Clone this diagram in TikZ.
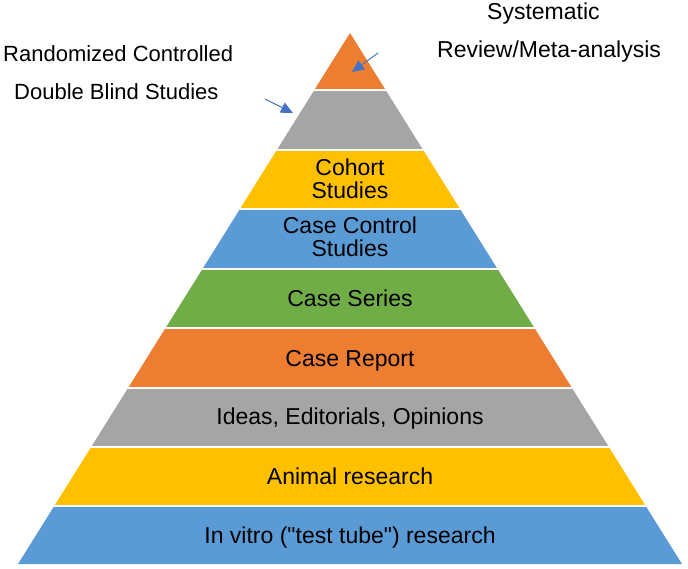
\documentclass[tikz,border=0pt]{standalone}
\usepackage{fontspec}
\setmainfont{Liberation Sans}
\newfontfamily\qfont{Liberation Sans}
\newcommand{\sq}{{\qfont\char34}}
\usetikzlibrary{arrows.meta}
\definecolor{porange}{HTML}{ED7D31}
\definecolor{pgray}{HTML}{A5A5A5}
\definecolor{pyellow}{HTML}{FFC000}
\definecolor{pblue}{HTML}{5B9BD5}
\definecolor{pgreen}{HTML}{70AD47}
\definecolor{arrowblue}{HTML}{4472C4}
\begin{document}
\begin{tikzpicture}[x=1pt,y=-1pt,
  layertext/.style={font=\fontsize{23}{25}\selectfont, anchor=base, inner sep=0pt, text=black},
  sidetext/.style={font=\fontsize{22}{24}\selectfont, anchor=base west, inner sep=0pt, text=black},
  sidetextb/.style={font=\fontsize{23}{25}\selectfont, anchor=base west, inner sep=0pt, text=black},
  pointer/.style={draw=arrowblue, line width=0.9pt, -{Triangle[length=12pt,width=11pt]}, fill=arrowblue}]
\useasboundingbox (0,0) rectangle (688,568);
\begin{scope}
  \clip (350,33) -- (18,564) -- (682,564) -- cycle;
  \fill[porange] (0,0) rectangle (688,90);
  \fill[pgray]   (0,90) rectangle (688,150);
  \fill[pyellow] (0,150) rectangle (688,209);
  \fill[pblue]   (0,209) rectangle (688,269);
  \fill[pgreen]  (0,269) rectangle (688,328);
  \fill[porange] (0,328) rectangle (688,388);
  \fill[pgray]   (0,388) rectangle (688,447);
  \fill[pyellow] (0,447) rectangle (688,506);
  \fill[pblue]   (0,506) rectangle (688,568);
  \foreach \yy in {90,150,209,269,328,388,447,506}
    \draw[white, line width=2.5pt] (0,\yy) -- (688,\yy);
\end{scope}
\node[layertext] (cohortA) at (350,175) {Cohort};
\node[layertext] (cohortB) at (350,198) {Studies};
\node[layertext] (ccA) at (350,233) {Case Control};
\node[layertext] (ccB) at (350,256) {Studies};
\node[layertext] (series) at (350,306) {Case Series};
\node[layertext] (report) at (350,366) {Case Report};
\node[layertext] (ideas) at (350,424) {Ideas, Editorials, Opinions};
\node[layertext] (animal) at (350,484) {Animal research};
\node[layertext] (vitro) at (350,543) {In vitro (\sq test tube\sq) research};
\node[sidetext] (rctA) at (3,61) {Randomized Controlled};
\node[sidetext] (rctB) at (14,99) {Double Blind Studies};
\node[sidetextb] (sysA) at (487,19) {Systematic};
\node[sidetextb] (sysB) at (437,57) {Review/Meta-analysis};
\coordinate (a1s) at (378,53);
\coordinate (a1e) at (352,72);
\coordinate (a2s) at (265,99);
\coordinate (a2e) at (293,113);
\draw[pointer] (a1s) -- (a1e);
\draw[pointer] (a2s) -- (a2e);
\end{tikzpicture}
\end{document}
